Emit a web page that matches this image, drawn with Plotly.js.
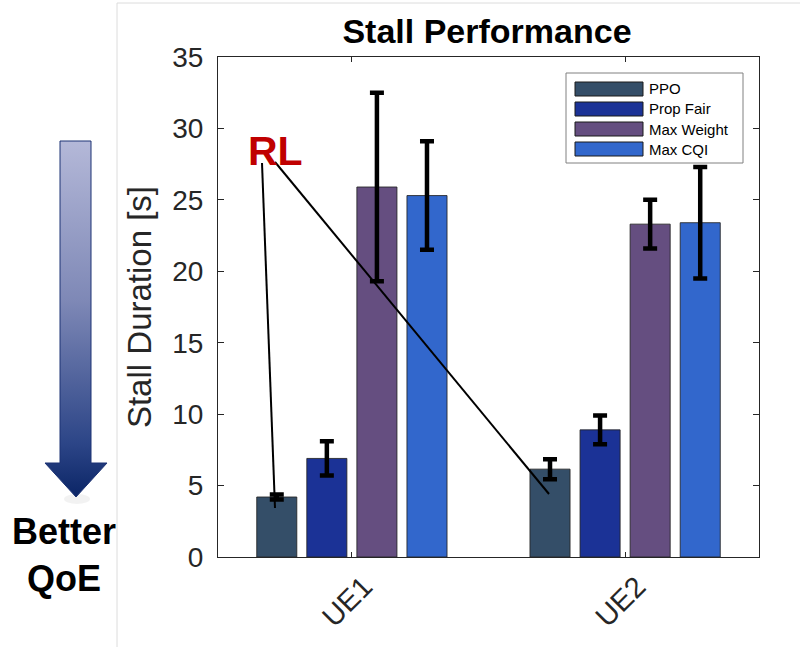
<!DOCTYPE html>
<html>
<head>
<meta charset="utf-8">
<script src="https://cdn.plot.ly/plotly-3.0.1.min.js"></script>
<style>html,body{margin:0;padding:0;background:#fff;}#chart{width:804px;height:647px;}</style>
</head>
<body>
<div id="chart"></div>
<script>
// ---- data ----
const categories = ['UE1', 'UE2'];
const seriesNames = ['PPO', 'Prop Fair', 'Max Weight', 'Max CQI'];
const ppo = [4.2, 6.15];
const ppoErr = [0.17, 0.7];
const propFair = [6.9, 8.9];
const propFairErr = [1.2, 1.0];
const maxWeight = [25.9, 23.3];
const maxWeightErr = [6.6, 1.7];
const maxCqi = [25.3, 23.4];
const maxCqiErr = [3.8, 3.9];
const yTicks = [0, 5, 10, 15, 20, 25, 30, 35];

const seriesValues = [ppo, propFair, maxWeight, maxCqi];
const seriesErrors = [ppoErr, propFairErr, maxWeightErr, maxCqiErr];
const seriesColors = ['#344e68', '#1b3296', '#654e80', '#3267cc'];

const W = 804, H = 647;
const px = x => x / W;
const py = y => 1 - y / H;
const FONT = 'Arial, "Liberation Sans", Helvetica, sans-serif';

const traces = seriesNames.map((name, i) => ({
  type: 'bar',
  name: name,
  x: categories,
  y: seriesValues[i],
  marker: {color: seriesColors[i], line: {color: 'rgba(35,35,35,0.85)', width: 1}},
  error_y: {type: 'data', array: seriesErrors[i], visible: true, color: '#000', thickness: 4.5, width: 7},
  showlegend: false,
  xaxis: 'x', yaxis: 'y'
}));

// decorative "Better QoE" arrow (pixel coordinates on a hidden overlay axis)
traces.push({
  type: 'scatter', mode: 'lines',
  x: [60, 91, 91, 107, 76, 45, 60, 60],
  y: [141, 141, 463, 463, 497, 463, 463, 141],
  fill: 'toself',
  fillgradient: {type: 'vertical', start: 141, stop: 497,
    colorscale: [[0, '#b4b8d8'], [0.45, '#7e88b6'], [0.85, '#2c4587'], [1, '#0b2566']]},
  line: {color: '#1d3374', width: 1},
  hoverinfo: 'skip', showlegend: false,
  xaxis: 'x2', yaxis: 'y2'
});

const shapes = [
  // panel border
  {type: 'line', xref: 'paper', yref: 'paper', x0: px(117), x1: px(117), y0: py(3), y1: py(647), line: {color: '#dcdcdc', width: 1}, layer: 'below'},
  {type: 'line', xref: 'paper', yref: 'paper', x0: px(117), x1: px(800), y0: py(3), y1: py(3), line: {color: '#dcdcdc', width: 1}, layer: 'below'},
  // faint arrow shadow
  {type: 'circle', xref: 'paper', yref: 'paper', x0: px(64), x1: px(90), y0: py(494), y1: py(504), fillcolor: 'rgba(0,0,0,0.05)', line: {width: 0}, layer: 'below'},
  // legend box
  {type: 'rect', xref: 'paper', yref: 'paper', x0: px(566), x1: px(743), y0: py(73), y1: py(163), fillcolor: '#fff', line: {color: '#808080', width: 1}},
  // RL pointer lines
  {type: 'line', xref: 'paper', yref: 'paper', x0: px(262), y0: py(163), x1: px(275), y1: py(508), line: {color: '#000', width: 2}},
  {type: 'line', xref: 'paper', yref: 'paper', x0: px(275), y0: py(162), x1: px(549), y1: py(494), line: {color: '#000', width: 2}}
];

const annotations = [
  {xref: 'paper', yref: 'paper', x: px(275), y: py(151), text: '<b>RL</b>', showarrow: false,
   font: {family: FONT, size: 41, color: '#c00000'}, xanchor: 'center', yanchor: 'middle'},
  {xref: 'paper', yref: 'paper', x: px(64), y: py(555), text: '<b>Better<br>QoE</b>', showarrow: false,
   font: {family: FONT, size: 36, color: '#000'}, xanchor: 'center', yanchor: 'middle', align: 'center'}
];

// custom legend (wide swatches)
seriesNames.forEach((name, i) => {
  const cy = 89 + 20 * i;
  shapes.push({type: 'rect', xref: 'paper', yref: 'paper', x0: px(575), x1: px(643), y0: py(cy - 7), y1: py(cy + 7),
    fillcolor: seriesColors[i], line: {color: '#1a1a1a', width: 1}});
  annotations.push({xref: 'paper', yref: 'paper', x: px(647), y: py(cy), text: name, showarrow: false,
    xanchor: 'left', yanchor: 'middle', font: {family: FONT, size: 15, color: '#000'}});
});

const layout = {
  width: W, height: H,
  margin: {l: 0, r: 0, t: 0, b: 0},
  paper_bgcolor: '#fff', plot_bgcolor: 'rgba(0,0,0,0)',
  font: {family: FONT, color: '#262626'},
  title: {text: '<b>Stall Performance</b>', x: px(487), xref: 'paper', xanchor: 'center', y: py(31), yref: 'paper', yanchor: 'middle',
          font: {family: FONT, size: 34, color: '#000'}},
  barmode: 'group', bargap: 0.267, bargroupgap: 0.2,
  showlegend: false,
  xaxis: {
    domain: [px(218), px(759)], anchor: 'y',
    range: [-0.49, 1.49], type: 'category',
    showline: true, linecolor: '#262626', linewidth: 1, mirror: 'ticks',
    ticks: 'inside', ticklen: 5, tickcolor: '#262626',
    tickangle: -45, tickfont: {family: FONT, size: 29, color: '#262626'}, ticklabelshift: 12,
    showgrid: false, zeroline: false, automargin: false
  },
  yaxis: {
    domain: [py(557), py(57)], anchor: 'x',
    range: [0, 35], tickvals: yTicks, ticktext: yTicks.map(String),
    showline: true, linecolor: '#262626', linewidth: 1, mirror: 'ticks',
    ticks: 'inside', ticklen: 6, tickcolor: '#262626',
    tickfont: {family: FONT, size: 28, color: '#262626'}, ticklabelstandoff: 8,
    title: {text: 'Stall Duration [s]', font: {family: FONT, size: 33, color: '#262626'}, standoff: 10},
    showgrid: false, zeroline: false, automargin: false
  },
  xaxis2: {domain: [0, 1], range: [0, W], visible: false, anchor: 'y2', fixedrange: true},
  yaxis2: {domain: [0, 1], range: [H, 0], visible: false, anchor: 'x2', fixedrange: true},
  shapes: shapes,
  annotations: annotations
};

Plotly.newPlot('chart', traces, layout, {displayModeBar: false, staticPlot: true});
</script>
</body>
</html>
